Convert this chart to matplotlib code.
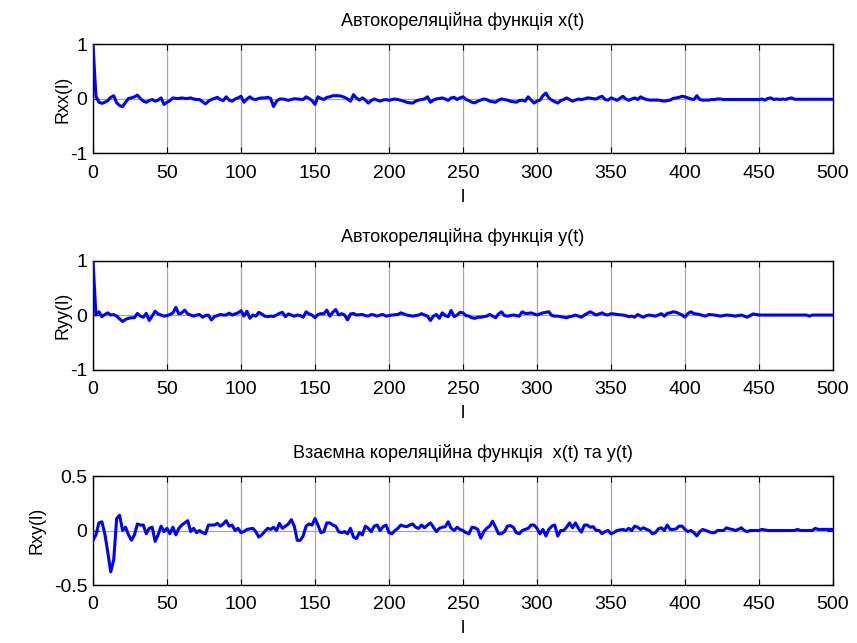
import numpy as np
import matplotlib
matplotlib.use("Agg")
import matplotlib.pyplot as plt

plt.rcParams['font.family'] = ['Liberation Sans', 'DejaVu Sans']

# lag axis (every second lag from 0 to 500)
lags = np.arange(0, 501, 2)

# autocorrelation of x(t)
rxx = [
    1.0, 0.05, -0.06, -0.08, -0.06, -0.03, 0.03, 0.06, -0.07, -0.12,
    -0.14, -0.06, 0.01, 0.02, 0.04, 0.07, 0.01, -0.04, -0.06, -0.03,
    -0.01, -0.04, -0.02, 0.02, -0.10, -0.06, -0.03, 0.02, 0.01, 0.01,
    0.02, 0.01, 0.01, 0.02, 0.0, -0.01, -0.01, -0.05, -0.09, -0.04,
    -0.01, 0.01, 0.03, -0.01, -0.03, 0.04, -0.02, -0.04, 0.0, 0.02,
    0.05, -0.06, 0.0, 0.04, 0.0, -0.01, 0.01, 0.02, 0.02, 0.03,
    0.01, -0.14, -0.04, 0.0, 0.0, -0.01, -0.025, -0.01, 0.005, 0.0,
    -0.005, -0.01, 0.04, 0.01, -0.03, -0.10, 0.04, 0.01, -0.01, 0.03,
    0.04, 0.06, 0.06, 0.06, 0.05, 0.03, 0.0, -0.04, 0.08, 0.02,
    -0.02, 0.02, -0.02, -0.075, -0.03, 0.0, -0.02, -0.04, -0.02, -0.01,
    -0.025, -0.01, 0.0, -0.01, -0.025, -0.04, -0.06, -0.07, -0.075, -0.04,
    -0.02, -0.01, 0.0, 0.04, -0.06, -0.02, 0.0, 0.01, 0.02, 0.0,
    -0.025, 0.02, 0.03, -0.01, 0.02, 0.04, -0.01, -0.03, -0.06, -0.07,
    -0.04, -0.02, 0.0, -0.01, -0.04, -0.05, -0.06, -0.02, 0.0, -0.01,
    -0.02, -0.04, -0.05, -0.06, -0.03, -0.02, -0.04, 0.04, -0.02, -0.075,
    -0.04, -0.02, 0.06, 0.11, 0.02, -0.02, -0.05, -0.075, -0.03, -0.01,
    0.02, -0.01, -0.04, -0.02, 0.0, -0.01, 0.0, 0.02, 0.015, 0.005,
    0.0, 0.03, 0.05, -0.01, -0.02, 0.02, 0.0, -0.025, 0.01, 0.05,
    0.0, -0.025, 0.0, 0.02, -0.01, 0.04, 0.01, -0.01, -0.02, -0.02,
    -0.02, -0.02, -0.03, -0.04, -0.03, -0.02, 0.01, 0.02, 0.03, 0.05,
    0.04, 0.02, 0.0, -0.01, 0.06, -0.01, -0.02, -0.02, -0.02, -0.01,
    -0.01, 0.0, 0.0, -0.01, -0.01, -0.01, -0.01, -0.01, -0.01, -0.01,
    -0.01, -0.01, -0.01, -0.01, -0.01, -0.01, 0.0, -0.02, 0.01, 0.02,
    -0.01, 0.0, -0.01, 0.0, -0.01, 0.01, 0.02, -0.005, -0.005, -0.005,
    -0.005, -0.005, -0.005, -0.005, -0.005, -0.005, -0.005, -0.005, -0.005, -0.005,
    -0.005,
]

# autocorrelation of y(t)
ryy = [
    1.0, 0.0, 0.06, -0.03, 0.01, 0.04, 0.0, 0.01, -0.02, -0.07,
    -0.12, -0.08, -0.06, -0.05, -0.05, 0.03, -0.02, -0.04, 0.03, -0.10,
    -0.02, 0.07, 0.02, 0.0, -0.02, -0.01, 0.01, 0.04, 0.14, 0.02,
    0.04, 0.09, 0.02, 0.0, -0.02, 0.0, 0.01, -0.04, -0.01, 0.0,
    -0.09, -0.03, -0.01, 0.01, 0.0, 0.0, 0.035, 0.0, 0.02, 0.04,
    0.08, -0.02, 0.07, -0.06, 0.0, -0.02, 0.05, 0.02, -0.02, -0.03,
    -0.02, -0.025, 0.0, 0.03, 0.05, -0.03, 0.02, 0.0, -0.02, 0.0,
    -0.01, -0.04, 0.06, 0.02, 0.0, -0.05, 0.01, 0.025, 0.025, 0.09,
    -0.02, 0.05, 0.10, 0.0, 0.025, 0.0, -0.09, 0.02, 0.03, 0.0,
    0.005, 0.01, -0.01, -0.02, 0.01, 0.0, -0.02, 0.0, 0.01, -0.02,
    -0.01, 0.0, 0.005, 0.01, 0.04, 0.02, 0.0, -0.01, -0.02, -0.01,
    0.0, 0.025, 0.0, -0.02, -0.10, -0.02, 0.01, -0.06, 0.04, -0.01,
    -0.03, 0.085, -0.03, 0.0, 0.05, 0.04, -0.01, -0.02, -0.05, -0.06,
    -0.04, -0.04, -0.03, -0.02, 0.01, -0.02, -0.05, 0.02, 0.06, -0.01,
    -0.02, -0.01, 0.0, -0.01, -0.02, 0.06, 0.03, 0.03, 0.04, 0.02,
    0.0, 0.02, 0.04, 0.05, 0.06, -0.01, -0.02, -0.02, -0.03, -0.04,
    -0.05, -0.03, -0.02, 0.0, -0.02, -0.04, 0.0, 0.03, 0.06, 0.03,
    0.0, 0.02, 0.04, 0.01, 0.0, 0.025, 0.02, 0.01, 0.005, 0.0,
    -0.01, -0.03, -0.02, -0.04, 0.01, -0.02, -0.04, -0.01, 0.0, -0.01,
    -0.02, 0.0, 0.025, -0.02, 0.03, 0.04, 0.06, 0.05, 0.025, 0.0,
    -0.04, 0.03, 0.06, 0.025, 0.02, 0.01, -0.01, -0.02, 0.01, 0.005,
    0.0, -0.01, -0.02, -0.01, 0.0, -0.005, -0.01, -0.02, -0.01, 0.0,
    -0.02, -0.04, -0.01, 0.02, 0.01, 0.0, 0.0, 0.0, 0.0, 0.0,
    0.0, 0.0, 0.0, 0.0, 0.0, 0.0, 0.0, 0.0, 0.0, 0.0,
    0.0, 0.0, -0.02, 0.0, 0.0, 0.0, 0.0, 0.0, 0.0, 0.0,
    0.0,
]

# cross-correlation of x(t) and y(t)
rxy = [
    -0.09, -0.04, 0.07, 0.08, -0.03, -0.20, -0.38, -0.27, 0.11, 0.14,
    0.0, 0.03, -0.04, -0.09, -0.04, 0.06, 0.05, 0.05, -0.03, 0.02,
    0.03, -0.10, -0.04, 0.04, -0.01, 0.02, -0.03, 0.03, -0.04, 0.02,
    0.05, 0.07, 0.09, -0.01, 0.02, -0.02, 0.0, -0.02, -0.03, 0.05,
    0.05, 0.05, 0.065, 0.04, 0.06, 0.09, 0.04, 0.05, 0.0, 0.02,
    -0.02, -0.01, 0.01, 0.015, 0.02, -0.01, -0.06, -0.04, -0.01, 0.02,
    0.01, 0.03, 0.0, 0.065, 0.02, 0.04, 0.06, 0.10, 0.04, -0.09,
    -0.09, -0.05, 0.04, 0.06, 0.05, 0.11, 0.05, -0.02, -0.01, 0.07,
    0.07, 0.05, 0.04, -0.01, -0.02, -0.01, -0.03, 0.02, -0.06, -0.075,
    -0.02, -0.04, 0.04, 0.02, -0.01, 0.04, 0.05, 0.0, 0.035, 0.05,
    -0.02, -0.03, 0.0, 0.02, 0.05, 0.04, 0.035, 0.05, 0.06, 0.03,
    0.02, 0.05, 0.025, 0.05, 0.07, 0.03, -0.01, 0.02, 0.03, 0.035,
    0.08, 0.02, 0.0, 0.03, 0.01, 0.0, -0.02, -0.03, 0.03, 0.025,
    0.01, -0.07, -0.01, 0.02, 0.04, 0.085, 0.03, -0.03, -0.03, -0.01,
    0.04, 0.045, 0.03, -0.02, -0.03, 0.0, 0.01, 0.02, 0.05, 0.05,
    0.02, -0.03, 0.01, -0.05, 0.01, 0.04, 0.05, -0.05, 0.0, 0.0,
    0.03, 0.07, 0.025, 0.07, 0.02, -0.015, 0.05, 0.05, 0.03, 0.035,
    0.0, 0.0, -0.03, -0.01, 0.0, -0.03, -0.02, 0.0, 0.005, 0.01,
    0.0, 0.02, 0.0, 0.04, 0.03, 0.01, 0.025, 0.01, 0.0, -0.03,
    -0.02, 0.015, 0.025, 0.0, 0.05, 0.01, 0.01, 0.015, 0.04, 0.04,
    0.01, -0.01, 0.0, -0.02, -0.05, -0.01, 0.01, 0.0, -0.01, -0.02,
    -0.02, 0.0, 0.0, 0.0, 0.025, 0.015, 0.01, 0.0, 0.01, 0.025,
    0.0, -0.01, 0.0, 0.0, 0.0, 0.0, 0.01, 0.005, 0.0, 0.0,
    0.0, 0.0, 0.0, 0.0, 0.0, 0.0, 0.0, 0.0, 0.01, 0.0,
    0.0, 0.0, 0.0, 0.0, 0.02, 0.01, 0.01, 0.01, 0.01, 0.01,
    0.01,
]

titles = [
    "Автокореляційна функція x(t)",
    "Автокореляційна функція y(t)",
    "Взаємна кореляційна функція  x(t) та y(t)",
]
ylabels = ["Rxx(l)", "Ryy(l)", "Rxy(l)"]
ylims = [(-1, 1), (-1, 1), (-0.5, 0.5)]
yticks = [[-1, 0, 1], [-1, 0, 1], [-0.5, 0, 0.5]]
ytick_labels = [["-1", "0", "1"], ["-1", "0", "1"], ["-0.5", "0", "0.5"]]
ylabel_x = [-0.029, -0.029, -0.064]
xticks = list(range(0, 501, 50))

fig = plt.figure(figsize=(8.57, 6.43), dpi=100)
left, width, height = 0.1085, 0.8635, 0.1695
bottoms = [0.7613, 0.4253, 0.0902]

for i, series in enumerate([rxx, ryy, rxy]):
    ax = fig.add_axes([left, bottoms[i], width, height])
    ax.plot(lags, series, color=(0, 0, 1), linewidth=2.2, zorder=3)
    ax.set_xlim(0, 500)
    ax.set_ylim(*ylims[i])
    ax.set_xticks(xticks)
    ax.set_yticks(yticks[i])
    ax.set_yticklabels(ytick_labels[i])
    ax.grid(True, color="#a6a6a6", linewidth=0.9, linestyle="-", zorder=1)
    ax.tick_params(direction="in", top=True, right=True, length=4,
                   width=0.8, labelsize=14)
    ax.tick_params(axis="x", pad=8)
    ax.tick_params(axis="y", pad=4)
    for sp in ax.spines.values():
        sp.set_linewidth(1.0)
    ax.set_title(titles[i], fontsize=13, pad=13)
    ax.set_xlabel("l", fontsize=13, labelpad=5)
    ax.set_ylabel(ylabels[i], fontsize=13)
    ax.yaxis.set_label_coords(ylabel_x[i], 0.5)

fig.savefig("out.png", dpi=100)
